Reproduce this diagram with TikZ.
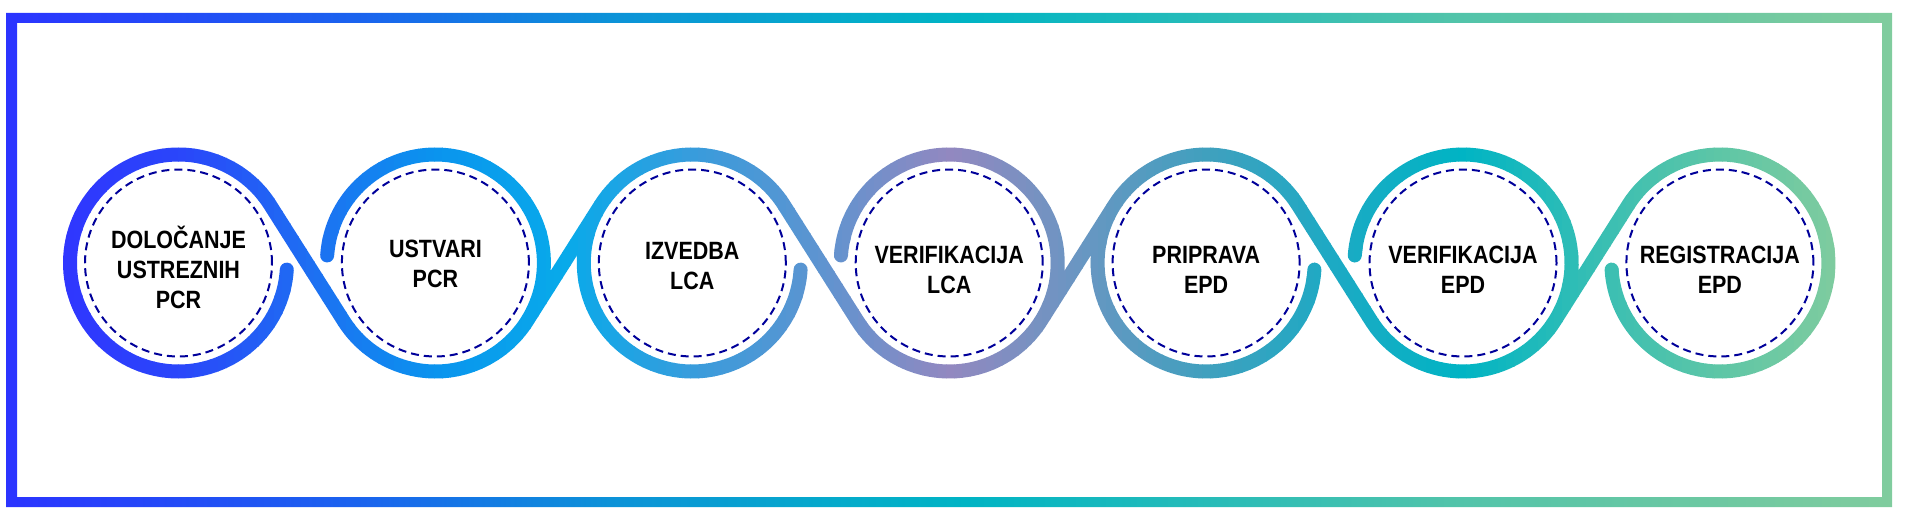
\documentclass[tikz,border=0pt]{standalone}
\usepackage{fontspec}
\usepackage{xcolor}
\usepackage{tikz}
\usetikzlibrary{calc,positioning}
\newfontfamily\stepfont{Liberation Sans}[FakeStretch=0.86]

\definecolor{navydash}{HTML}{00009A}
\definecolor{cs0}{HTML}{3034FF}
\definecolor{cs1}{HTML}{2A46FA}
\definecolor{cs2}{HTML}{1E6EF2}
\definecolor{cs3}{HTML}{0A94EE}
\definecolor{cs4}{HTML}{08AAEA}
\definecolor{cs5}{HTML}{389CDC}
\definecolor{cs6}{HTML}{5E94D0}
\definecolor{cs7}{HTML}{9288C0}
\definecolor{cs8}{HTML}{6A96C2}
\definecolor{cs9}{HTML}{40A0BE}
\definecolor{cs10}{HTML}{1CAAC4}
\definecolor{cs11}{HTML}{00B4C4}
\definecolor{cs12}{HTML}{36BEB4}
\definecolor{cs13}{HTML}{5EC6A6}
\definecolor{cs14}{HTML}{82CC9E}
\definecolor{fr0}{HTML}{2B34FF}
\definecolor{fr1}{HTML}{1A64EE}
\definecolor{fr2}{HTML}{0C92D8}
\definecolor{fr3}{HTML}{04ACCA}
\definecolor{fr4}{HTML}{00B4C4}
\definecolor{fr5}{HTML}{28BCB8}
\definecolor{fr6}{HTML}{52C4AA}
\definecolor{fr7}{HTML}{6CC8A2}
\definecolor{fr8}{HTML}{80CC9E}

\pgfdeclarehorizontalshading{framegrad}{100bp}{color(0bp)=(fr0); color(25bp)=(fr0);
  color(34.5bp)=(fr1); color(41bp)=(fr2); color(47.5bp)=(fr3); color(50.5bp)=(fr4);
  color(57bp)=(fr5); color(63.5bp)=(fr6); color(70bp)=(fr7); color(75bp)=(fr8);
  color(100bp)=(fr8)}

\def\R{108.5}

\tikzset{
  ribbon/.style={line width=14pt, line cap=round},
  stepnode/.style={circle,
    draw=navydash,
    line width=2pt,
    dash pattern=on 8pt off 5pt,
    minimum size=187pt,
    inner sep=0pt},
  steptext/.style={align=center,
    inner sep=0pt,
    font=\stepfont\bfseries\fontsize{25pt}{30pt}\selectfont},
  looppath/.style={insert path={
    (s1.center) ++(-3.5:\R) arc[start angle=-3.5, end angle=-327.65, radius=\R]
    -- ($(s2.center)+(212.35:\R)$) arc[start angle=212.35, end angle=327.65, radius=\R]
    -- ($(s3.center)+(147.65:\R)$) arc[start angle=147.65, end angle=32.35, radius=\R]
    -- ($(s4.center)+(212.35:\R)$) arc[start angle=212.35, end angle=327.65, radius=\R]
    -- ($(s5.center)+(147.65:\R)$) arc[start angle=147.65, end angle=32.35, radius=\R]
    -- ($(s6.center)+(212.35:\R)$) arc[start angle=212.35, end angle=327.65, radius=\R]
    -- ($(s7.center)+(147.65:\R)$) arc[start angle=147.65, end angle=-176.5, radius=\R]
    ($(s2.center)+(176:\R)$) arc[start angle=176, end angle=-32.35, radius=\R]
    ($(s3.center)+(147.65:\R)$) arc[start angle=147.65, end angle=356.5, radius=\R]
    ($(s4.center)+(176:\R)$) arc[start angle=176, end angle=-32.35, radius=\R]
    ($(s5.center)+(147.65:\R)$) arc[start angle=147.65, end angle=356.5, radius=\R]
    ($(s6.center)+(176:\R)$) arc[start angle=176, end angle=-32.35, radius=\R]
  }}
}

\begin{document}
\begin{tikzpicture}[x=1pt, y=1pt, node distance=256.9pt]

\useasboundingbox (0,-265) rectangle (1908,263);

\shade[shading=framegrad, even odd rule]
  (6,250) rectangle (1892,-244)
  (17,240) rectangle (1882,-234);

\node[stepnode] (s1) at (178.5,0) {};
\node[stepnode, right of=s1] (s2) {};
\node[stepnode, right of=s2] (s3) {};
\node[stepnode, right of=s3] (s4) {};
\node[stepnode, right of=s4] (s5) {};
\node[stepnode, right of=s5] (s6) {};
\node[stepnode, right of=s6] (s7) {};

\node[steptext] (t1) at ([yshift=-4pt]s1.center) {DOLOČANJE\\USTREZNIH\\PCR};
\node[steptext] (t2) at ([yshift=-1pt]s2.center) {USTVARI\\PCR};
\node[steptext] (t3) at ([yshift=-3pt]s3.center) {IZVEDBA\\LCA};
\node[steptext] (t4) at ([yshift=-7pt]s4.center) {VERIFIKACIJA\\LCA};
\node[steptext] (t5) at ([yshift=-7pt]s5.center) {PRIPRAVA\\EPD};
\node[steptext] (t6) at ([yshift=-7pt]s6.center) {VERIFIKACIJA\\EPD};
\node[steptext] (t7) at ([yshift=-7pt]s7.center) {REGISTRACIJA\\EPD};

\foreach \k in {0,...,224}{
  \pgfmathsetmacro\xa{50+8*\k}
  \pgfmathtruncatemacro\j{(4+8*\k)/128.45}
  \pgfmathtruncatemacro\jn{\j+1}
  \pgfmathtruncatemacro\f{100*((4+8*\k)/128.45-\j)}
  \begin{scope}
    \clip (\xa,-265) rectangle ++(8.6,528);
    \draw[ribbon, draw=cs\jn!\f!cs\j] [looppath];
  \end{scope}
}

\end{tikzpicture}
\end{document}
